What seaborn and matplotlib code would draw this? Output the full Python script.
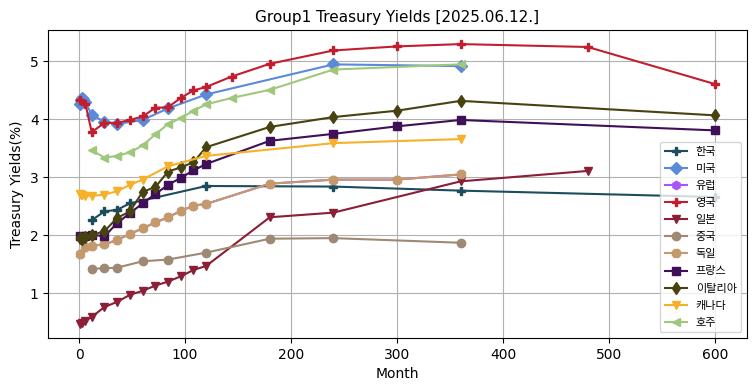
import matplotlib
matplotlib.use("Agg")
import matplotlib.pyplot as plt
import seaborn as sns
import pandas as pd

plt.rcParams['font.family'] = ['DejaVu Sans', 'Noto Sans CJK KR']
plt.rcParams['axes.unicode_minus'] = False

# ---- data (months, yields %) ----
kr_m = [12, 24, 36, 48, 120, 240, 360, 600]
kr_y = [2.26, 2.41, 2.44, 2.55, 2.85, 2.84, 2.77, 2.66]

us_m = [1, 2, 3, 4, 6, 12, 24, 36, 60, 84, 120, 240, 360]
us_y = [4.27, 4.33, 4.37, 4.35, 4.30, 4.08, 3.96, 3.92, 3.99, 4.19, 4.43, 4.95, 4.92]

de_m = [1, 6, 12, 24, 36, 48, 60, 72, 84, 96, 108, 120, 180, 240, 300, 360]
de_y = [1.68, 1.80, 1.82, 1.84, 1.92, 2.02, 2.12, 2.22, 2.31, 2.42, 2.51, 2.54, 2.89, 2.96, 2.96, 3.05]

eu_m = list(de_m)
eu_y = list(de_y)

uk_m = [1, 6, 12, 24, 36, 48, 60, 72, 84, 96, 108, 120, 144, 180, 240, 300, 360, 480, 600]
uk_y = [4.33, 4.27, 3.78, 3.94, 3.94, 3.99, 4.05, 4.20, 4.21, 4.37, 4.50, 4.56, 4.74, 4.96, 5.19, 5.26, 5.30, 5.25, 4.61]

jp_m = [1, 3, 6, 12, 24, 36, 48, 60, 72, 84, 96, 108, 120, 180, 240, 360, 480]
jp_y = [0.47, 0.49, 0.52, 0.59, 0.76, 0.85, 0.97, 1.04, 1.13, 1.20, 1.29, 1.40, 1.47, 2.31, 2.39, 2.93, 3.11]

cn_m = [12, 24, 36, 60, 84, 120, 180, 240, 360]
cn_y = [1.42, 1.43, 1.44, 1.55, 1.58, 1.70, 1.94, 1.95, 1.87]

fr_m = [1, 6, 12, 24, 36, 48, 60, 72, 84, 96, 108, 120, 180, 240, 300, 360, 600]
fr_y = [1.98, 1.99, 2.01, 1.98, 2.21, 2.38, 2.55, 2.71, 2.87, 2.99, 3.12, 3.23, 3.63, 3.75, 3.88, 3.99, 3.81]

it_m = [1, 3, 6, 12, 24, 36, 48, 60, 72, 84, 96, 108, 120, 180, 240, 300, 360, 600]
it_y = [1.95, 1.93, 1.97, 2.00, 2.07, 2.30, 2.41, 2.75, 2.83, 3.10, 3.17, 3.26, 3.52, 3.87, 4.04, 4.15, 4.32, 4.07]

ca_m = [1, 2, 3, 6, 12, 24, 36, 48, 60, 84, 120, 240, 360]
ca_y = [2.72, 2.70, 2.69, 2.68, 2.68, 2.70, 2.76, 2.87, 2.96, 3.19, 3.37, 3.59, 3.66]

au_m = [12, 24, 36, 48, 60, 72, 84, 96, 108, 120, 144, 180, 240, 360]
au_y = [3.47, 3.34, 3.37, 3.43, 3.55, 3.74, 3.92, 4.02, 4.15, 4.26, 4.37, 4.51, 4.86, 4.95]

labels = ['한국', '미국', '유럽', '영국', '일본', '중국', '독일', '프랑스', '이탈리아', '캐나다', '호주']
months = [kr_m, us_m, eu_m, uk_m, jp_m, cn_m, de_m, fr_m, it_m, ca_m, au_m]
yields = [kr_y, us_y, eu_y, uk_y, jp_y, cn_y, de_y, fr_y, it_y, ca_y, au_y]

colors = ['#1b4d5c', '#5b8ad8', '#a855f7', '#c11f30', '#8a1f37', '#9e8a74',
          '#c49a6c', '#3f0f58', '#474310', '#f6b12b', '#9fc87c']
markers = ['P', 'D', 'h', 'P', 'v', 'o', '8', 's', 'd', 'v', '<']

fig, ax = plt.subplots(figsize=(7.55, 3.91), dpi=100)
fig.subplots_adjust(left=0.064, right=0.989, bottom=0.136, top=0.923)

for lab, m, y, c, mk in zip(labels, months, yields, colors, markers):
    df = pd.DataFrame({'Month': m, 'Yield': y})
    sns.lineplot(data=df, x='Month', y='Yield', ax=ax, color=c, marker=mk,
                 markersize=6, markeredgecolor=c, markeredgewidth=1.0,
                 linewidth=1.5, label=lab, sort=False)

ax.grid(True, color='#b0b0b0', linewidth=0.8)
ax.set_axisbelow(True)
ax.set_title('Group1 Treasury Yields [2025.06.12.]', fontsize=11)
ax.set_xlabel('Month', fontsize=10)
ax.set_ylabel('Treasury Yields(%)', fontsize=10)
ax.legend(loc='lower right', fontsize=8, labelspacing=0.64)

fig.savefig('out.png', dpi=100)
